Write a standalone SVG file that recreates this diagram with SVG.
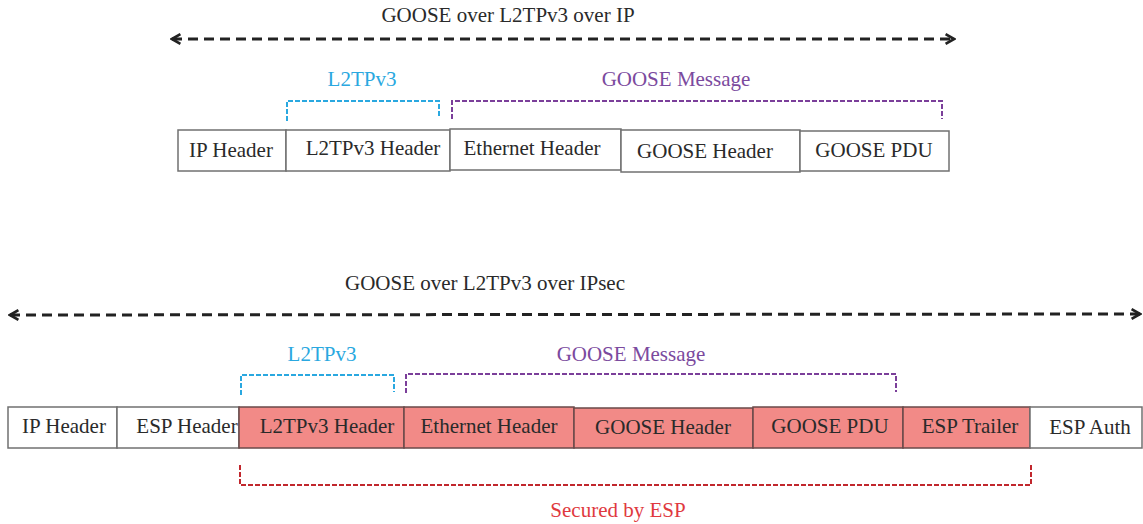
<svg xmlns="http://www.w3.org/2000/svg" width="1143" height="524" viewBox="0 0 1143 524">
<defs>
<marker id="ah" viewBox="0 0 10 10" refX="8" refY="5" markerWidth="4" markerHeight="4" orient="auto-start-reverse" markerUnits="strokeWidth">
<path d="M1,1 L8,5 L1,9" fill="none" stroke="#222" stroke-width="2.2"/>
</marker>
</defs>
<style>
text{font-family:"Liberation Serif","Times New Roman",serif;font-size:21px;text-anchor:middle;fill:#2a2a2a}
.box{fill:#fff;stroke:#707070;stroke-width:1.5}
.sec{fill:#F28A87;stroke:#6a4a4a;stroke-width:1.5}
.arr{fill:none;stroke:#222;stroke-width:3;stroke-dasharray:10,6}
.bl{fill:none;stroke:#2AA8E0;stroke-width:2;stroke-dasharray:5,2}
.pu{fill:none;stroke:#7B3F9A;stroke-width:2;stroke-dasharray:5,2}
.rd{fill:none;stroke:#C1272D;stroke-width:2;stroke-dasharray:5,2}
.tb{fill:#2AA8E0}
.tp{fill:#7B4A9E}
.tr{fill:#E0393E}
</style>
<g id="connectors">
<line class="arr" x1="172" y1="39" x2="954" y2="39" marker-start="url(#ah)" marker-end="url(#ah)"/>
<line class="arr" x1="10" y1="315" x2="1140" y2="314" marker-start="url(#ah)" marker-end="url(#ah)"/>
<path class="bl" d="M287,121 V101 H439 V118"/>
<path class="pu" d="M452,119 V101 H942 V119"/>
<path class="bl" d="M241,395 V375 H394 V392"/>
<path class="pu" d="M406,393 V374 H896 V392"/>
<path class="rd" d="M240,465 V485 H1031 V465"/>
</g>
<g id="labels">
<text x="508" y="22">GOOSE over L2TPv3 over IP</text>
<text class="tb" x="362" y="86">L2TPv3</text>
<text class="tp" x="676" y="86">GOOSE Message</text>
<text x="485" y="290">GOOSE over L2TPv3 over IPsec</text>
<text class="tb" x="322" y="361">L2TPv3</text>
<text class="tp" x="631" y="361">GOOSE Message</text>
<text class="tr" x="618" y="517">Secured by ESP</text>
</g>
<g id="top-ip"><rect class="box" x="178" y="130" width="108" height="41"/><text x="231" y="157">IP Header</text></g>
<g id="top-l2tp"><rect class="box" x="286" y="130" width="164" height="41"/><text x="373" y="155">L2TPv3 Header</text></g>
<g id="top-eth"><rect class="box" x="450" y="129" width="171" height="41"/><text x="532" y="155">Ethernet Header</text></g>
<g id="top-gh"><rect class="box" x="621" y="130" width="179" height="42"/><text x="705" y="158">GOOSE Header</text></g>
<g id="top-pdu"><rect class="box" x="800" y="131" width="149" height="40"/><text x="874" y="157">GOOSE PDU</text></g>
<g id="bot-ip"><rect class="box" x="8" y="407" width="109" height="41"/><text x="64" y="433">IP Header</text></g>
<g id="bot-esph"><rect class="box" x="117" y="407" width="122" height="41"/><text x="187" y="433">ESP Header</text></g>
<g id="bot-l2tp"><rect class="sec" x="239" y="407" width="165" height="41"/><text x="327" y="433">L2TPv3 Header</text></g>
<g id="bot-eth"><rect class="sec" x="404" y="407" width="170" height="41"/><text x="489" y="433">Ethernet Header</text></g>
<g id="bot-gh"><rect class="sec" x="574" y="408" width="179" height="40"/><text x="663" y="434">GOOSE Header</text></g>
<g id="bot-pdu"><rect class="sec" x="753" y="407" width="150" height="41"/><text x="830" y="433">GOOSE PDU</text></g>
<g id="bot-espt"><rect class="sec" x="903" y="407" width="127" height="41"/><text x="970" y="433">ESP Trailer</text></g>
<g id="bot-espa"><rect class="box" x="1030" y="407" width="112" height="41"/><text x="1090" y="434">ESP Auth</text></g>
</svg>
